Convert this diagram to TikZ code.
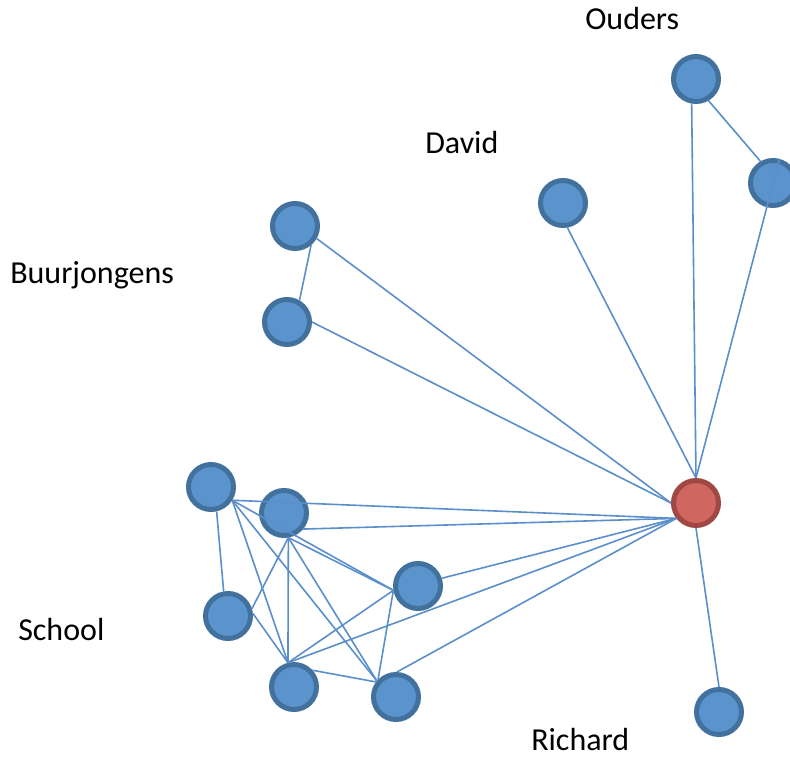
\documentclass[tikz,border=0pt]{standalone}
\usepackage{fontspec}
\setmainfont{Carlito}
\definecolor{nodefill}{HTML}{5B93CD}
\definecolor{nodeborder}{HTML}{41719C}
\definecolor{redfill}{HTML}{CF6660}
\definecolor{redborder}{HTML}{A04643}
\definecolor{edgecol}{HTML}{5A8FCB}
\begin{document}
\begin{tikzpicture}[x=0.75pt,y=-0.75pt,
  person/.style={circle,draw=nodeborder,fill=nodefill,line width=3.75pt,minimum size=33.75pt,inner sep=0pt},
  ego/.style={circle,draw=redborder,fill=redfill,line width=3.75pt,minimum size=33.75pt,inner sep=0pt},
  lbl/.style={font=\fontsize{24pt}{28pt}\selectfont,inner sep=0pt,anchor=base west},
  link/.style={draw=edgecol,line width=1.2pt}]
\clip (0,0) rectangle (790,760);
\useasboundingbox (0,0) rectangle (790,760);
% labels
\node[lbl] (lo) at (585,30) {Ouders};
\node[lbl] (ld) at (425,153) {David};
\node[lbl] (lb) at (10,283) {Buurjongens};
\node[lbl] (ls) at (18,640) {School};
\node[lbl] (lr) at (531,750) {Richard};
% nodes
\node[person] (O1) at (696,79) {};
\node[person] (O2) at (773,183) {};
\node[person] (D) at (563,203) {};
\node[person] (B1) at (295,226) {};
\node[person] (B2) at (287,322) {};
\node[ego] (C) at (696,503) {};
\node[person] (R) at (719,712) {};
\node[person] (S1) at (211,487) {};
\node[person] (S2) at (284,513) {};
\node[person] (S3) at (228,616) {};
\node[person] (S4) at (418,586) {};
\node[person] (S5) at (294,687) {};
\node[person] (S6) at (396,697) {};
% edges
\draw[link] (O1.-60) -- (O2.120);
\draw[link] (O1.-100) -- (C.north);
\draw[link] (O2.75) -- (C.north);
\draw[link] (D.-80) -- (C.north);
\draw[link] (B1.-30) -- (C.west);
\draw[link] (B2.east) -- (C.west);
\draw[link] (B1.-50) -- (B2.60);
\draw[link] (C.south) -- (R.north);
\draw[link] (S1.-32) -- (C.218);
\draw[link] (S2.-40) -- (C.218);
\draw[link] (S4.18) -- (C.218);
\draw[link] (S5.104) -- (C.218);
\draw[link] (S6.88) -- (C.218);
\draw[link] (S1.-77) -- (S3.100);
\draw[link] (S1.-32) -- (S4.190);
\draw[link] (S1.-32) -- (S5.104);
\draw[link] (S1.-32) -- (S6.140);
\draw[link] (S2.-80) -- (S3.17);
\draw[link] (S2.-80) -- (S5.104);
\draw[link] (S2.-80) -- (S6.140);
\draw[link] (S2.-80) -- (S4.190);
\draw[link] (S3.6) -- (S5.104);
\draw[link] (S4.190) -- (S5.104);
\draw[link] (S4.190) -- (S6.136);
\draw[link] (S5.42) -- (S6.143);
\end{tikzpicture}
\end{document}
